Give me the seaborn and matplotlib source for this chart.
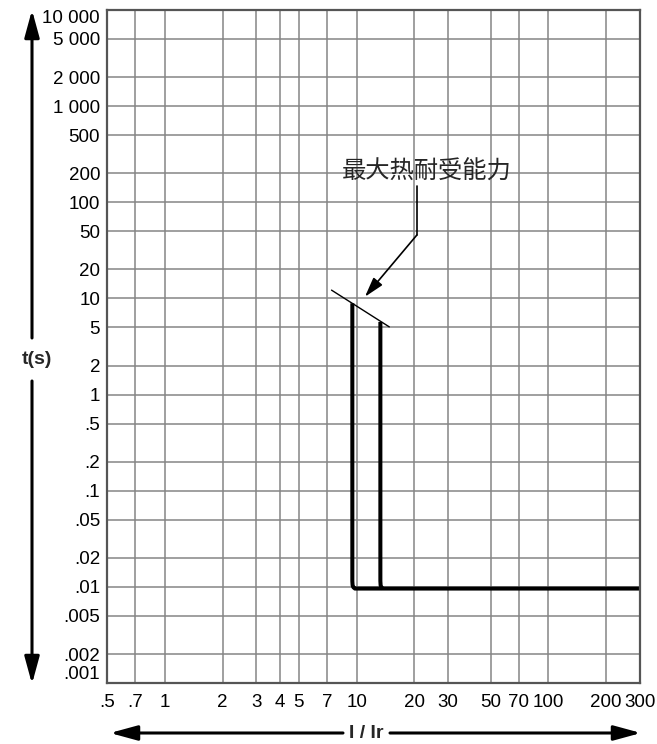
import numpy as np
import pandas as pd
import matplotlib
matplotlib.use('Agg')
import matplotlib.pyplot as plt
import seaborn as sns

# axis ticks
x_ticks = [0.5, 0.7, 1, 2, 3, 4, 5, 7, 10, 20, 30, 50, 70, 100, 200, 300]
x_labels = ['.5', '.7', '1', '2', '3', '4', '5', '7', '10', '20', '30', '50', '70', '100', '200', '300']
y_ticks = [0.001, 0.002, 0.005, 0.01, 0.02, 0.05, 0.1, 0.2, 0.5, 1, 2, 5,
           10, 20, 50, 100, 200, 500, 1000, 2000, 5000, 10000]
y_labels = ['.001', '.002', '.005', '.01', '.02', '.05', '.1', '.2', '.5', '1', '2', '5',
            '10', '20', '50', '100', '200', '500', '1 000', '2 000', '5 000', '10 000']

# trip curves (I/Ir, t)
curve1_x = [9.5, 9.5, 9.53, 9.62, 9.8, 300]
curve1_t = [8.9, 0.0115, 0.0104, 0.0099, 0.0096, 0.0096]
curve2_x = [13.3, 13.3, 13.34, 13.45, 13.7]
curve2_t = [5.7, 0.0115, 0.0104, 0.0099, 0.0096]

# max thermal withstand line
limit_x = [7.4, 14.8]
limit_t = [12.2, 5.06]

# annotation leader
leader_x = [20.6, 20.6]
leader_t = [147, 45.6]
arrow_tip = (11.05, 10.4)
label_pos = (23.3, 206)
label_text = '最大热耐受能力'

sns.set_style('white')
plt.rcParams['font.family'] = ['Liberation Sans', 'DejaVu Sans']

W, H = 657, 744
fig = plt.figure(figsize=(W / 100, H / 100), dpi=100)
ax = fig.add_axes([107 / W, 1 - 683 / H, (640 - 107) / W, (683 - 10) / H])

c1 = pd.DataFrame({'x': curve1_x, 't': curve1_t})
c2 = pd.DataFrame({'x': curve2_x, 't': curve2_t})
sns.lineplot(data=c1, x='x', y='t', sort=False, estimator=None, color='black',
             lw=2.9, ax=ax, solid_joinstyle='round', solid_capstyle='butt')
sns.lineplot(data=c2, x='x', y='t', sort=False, estimator=None, color='black',
             lw=2.9, ax=ax, solid_joinstyle='round', solid_capstyle='butt')
sns.lineplot(x=limit_x, y=limit_t, sort=False, estimator=None, color='black', lw=1.0, ax=ax)
sns.lineplot(x=leader_x, y=leader_t, sort=False, estimator=None, color='black', lw=1.2, ax=ax)

ax.annotate('', xy=arrow_tip, xytext=(leader_x[1], leader_t[1]),
            arrowprops=dict(arrowstyle='-|>,head_length=1.2,head_width=0.35',
                            color='black', lw=1.2, mutation_scale=10, shrinkA=0, shrinkB=0))
ax.text(label_pos[0], label_pos[1], label_text, ha='center', va='center',
        fontsize=17.5, family=['Noto Sans CJK SC', 'DejaVu Sans'])

ax.set_xscale('log')
ax.set_yscale('log')
ax.set_xlim(0.5, 300)
ax.set_ylim(0.001, 10000)
ax.set_xticks(x_ticks)
ax.set_xticklabels(x_labels)
ax.set_yticks(y_ticks)
ax.set_yticklabels(y_labels)
ax.minorticks_off()
ax.tick_params(length=0, labelsize=13.5, colors='black')
ax.tick_params(axis='y', pad=5)
ax.tick_params(axis='x', pad=8)
ax.get_yticklabels()[0].set_va('bottom')
ax.get_yticklabels()[-1].set_va('top')
ax.set_xlabel('')
ax.set_ylabel('')

for v in x_ticks[1:-1]:
    ax.axvline(v, color='#858585', lw=1.1, zorder=0)
for v in y_ticks[1:-1]:
    ax.axhline(v, color='#858585', lw=1.1, zorder=0)
for s in ax.spines.values():
    s.set_color('#555555')
    s.set_linewidth(1.6)

# outer axis arrows (figure pixels)
akw = dict(arrowstyle='-|>,head_length=1.65,head_width=0.45', color='black',
           lw=2.2, mutation_scale=10, shrinkA=0, shrinkB=0)
fig_ann = dict(xycoords='figure pixels', textcoords='figure pixels')
ax.annotate('', xy=(32, H - 10), xytext=(32, H - 338), arrowprops=akw, **fig_ann)
ax.annotate('', xy=(32, H - 684), xytext=(32, H - 381), arrowprops=akw, **fig_ann)
fig.text(37 / W, 1 - 359 / H, 't(s)', ha='center', va='center', fontsize=14, fontweight='bold')

ax.annotate('', xy=(110, H - 733), xytext=(343, H - 733), arrowprops=akw, **fig_ann)
ax.annotate('', xy=(641, H - 733), xytext=(390, H - 733), arrowprops=akw, **fig_ann)
fig.text(366 / W, 1 - 733 / H, 'I / Ir', ha='center', va='center', fontsize=14, fontweight='bold')

fig.savefig('out.png', dpi=100)
